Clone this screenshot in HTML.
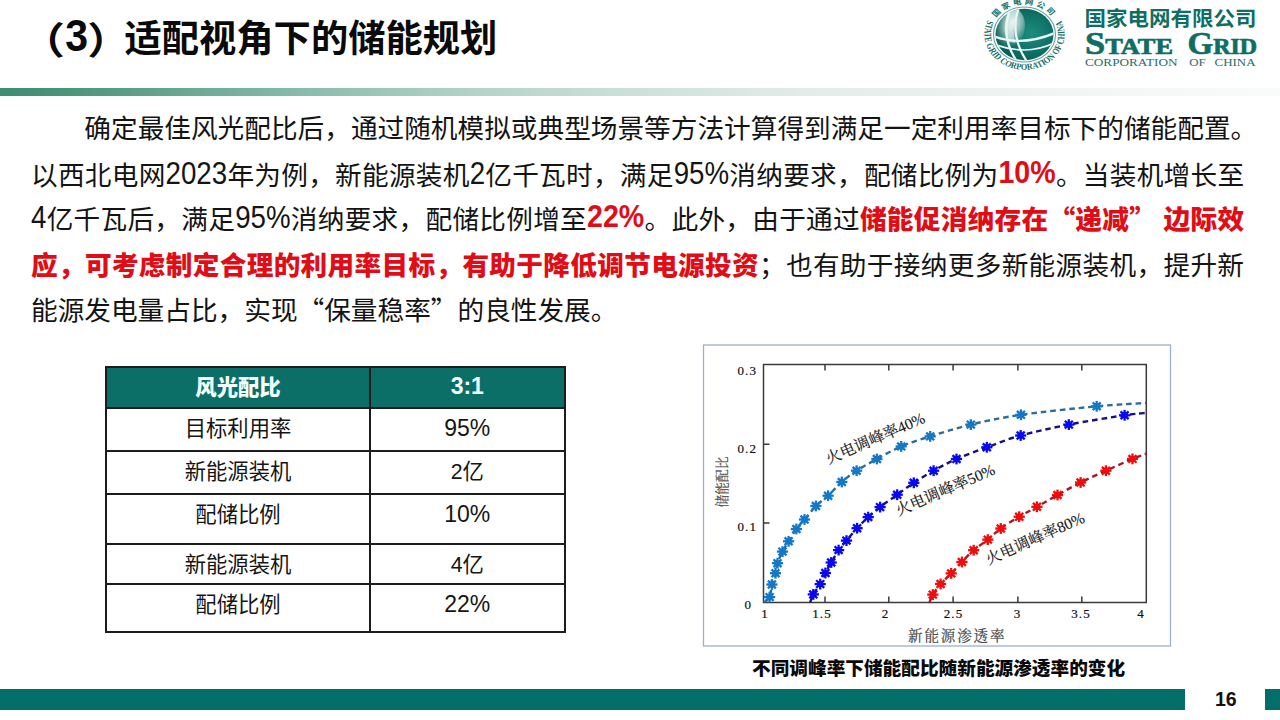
<!DOCTYPE html>
<html lang="zh-CN">
<head>
<meta charset="utf-8">
<title>适配视角下的储能规划</title>
<style>
html,body{margin:0;padding:0;}
body{width:1280px;height:720px;position:relative;overflow:hidden;background:#fff;
 font-family:"Liberation Sans","Noto Sans CJK SC",sans-serif;color:#111;}
.abs{position:absolute;}
#title{left:27px;top:13.5px;font-size:37.3px;font-weight:700;line-height:48px;white-space:nowrap;color:#0a0a0a;}
#tp1,#t3,#tp2{position:relative;display:inline-block;}
#tp1{left:-3.3px;top:2px;transform:scaleX(1.2);}
#t3{font-family:"Liberation Sans",sans-serif;font-size:41px;left:1px;top:-2px;transform:scaleY(1.1);}
#tp2{left:3px;top:2px;transform:scaleX(1.15);}
#gbar{left:0;top:87.5px;width:1280px;height:8px;background:linear-gradient(to right,#3e8c71 0%,#4d967c 6%,#8cbeaf 25%,#b4d3c8 37%,#cde1da 50%,#e2ece8 63%,#ebf2f0 75%,#f4f7f6 88%,#f9fbfa 100%);}
#para{left:31px;top:107px;width:1213px;height:230px;font-size:26.67px;line-height:45.8px;color:#141414;}
.ln{position:absolute;left:0;width:1213px;white-space:nowrap;}
.ln.j{text-align:justify;text-align-last:justify;}
#para q{quotes:none;font-family:"Noto Sans CJK SC",sans-serif;font-feature-settings:"fwid";}
#para b{color:#e00d16;font-weight:900;}
#para .d{display:inline-block;font-size:27.7px;transform-origin:0 32.5px;transform:translateY(-1px) scaleY(1.12);}
#para b .d{font-size:28.6px;transform-origin:0 33px;transform:translateY(-1.5px) scaleY(1.07);}
#tbl{left:106px;top:367px;width:458.5px;height:265px;font-size:21.33px;color:#151515;}
#tbl .thd{position:absolute;left:0;width:458.5px;background:#0b6e67;}
#tbl .tc{position:absolute;text-align:center;line-height:43.5px;white-space:nowrap;}
#tbl .tc.n{font-size:23px;line-height:41.5px;}
#tbl .tc.h{color:#f4fffe;font-weight:900;}
#tbl .hl{position:absolute;left:-1px;width:460.5px;height:2px;background:#1c1c1c;}
#tbl .vl{position:absolute;top:-1px;width:2px;height:266.7px;background:#1c1c1c;}
#cap{left:752px;top:654px;font-size:18.67px;font-weight:900;line-height:30px;white-space:nowrap;color:#0a0a0a;}
#fbar1{left:0;top:689px;width:1185px;height:21px;background:#046e69;}
#fbar2{left:1265px;top:689px;width:15px;height:21px;background:#046e69;}
#pno{left:1215px;top:685.5px;font-size:19.5px;font-weight:700;line-height:26px;color:#111;}
</style>
</head>
<body>
<div id="title" class="abs"><span id="tp1">（</span><span id="t3">3</span><span id="tp2">）</span>适配视角下的储能规划</div>
<div id="gbar" class="abs"></div>

<svg class="abs" style="left:975px;top:0" width="305" height="80" viewBox="975 0 305 80">
 <defs>
  <radialGradient id="gl" cx="0.62" cy="0.48" r="0.62">
   <stop offset="0" stop-color="#1c8d80"/>
   <stop offset="0.55" stop-color="#0f7268"/>
   <stop offset="1" stop-color="#0a5a52"/>
  </radialGradient>
  <radialGradient id="hl" cx="0.55" cy="0.35" r="0.6">
   <stop offset="0" stop-color="#f2f8f7" stop-opacity="0.95"/>
   <stop offset="0.5" stop-color="#b8d3cf" stop-opacity="0.7"/>
   <stop offset="1" stop-color="#7fb0a9" stop-opacity="0"/>
  </radialGradient>
  <path id="ringB" d="M-36.6,-16.3 A40,40 0 1,0 37.1,-15"/>
  <path id="ringT" d="M-26.6,-21.2 A34,34 0 0,1 26.6,-21.2"/>
  <clipPath id="gclip"><circle r="29"/></clipPath>
 </defs>
 <g transform="translate(1024.5,34.5) scale(1,0.885)">
  <circle r="31" fill="none" stroke="#5aa89e" stroke-width="1.1"/>
  <circle r="29" fill="url(#gl)"/>
  <g clip-path="url(#gclip)">
   <ellipse cx="-15" cy="-6" rx="15" ry="24" fill="url(#hl)" transform="rotate(12 -15 -6)"/>
   <path d="M-16,-26 Q-24,-4 -16,8 L-9,10 Q-14,-8 -6,-28 Z" fill="#eef7f6" opacity="0.55"/>
   <path d="M-15,-27 Q-24,2 -8,30" fill="none" stroke="#e8f7f5" stroke-width="2.4"/>
   <path d="M-6,-29 Q-15,0 2,30" fill="none" stroke="#e8f7f5" stroke-width="2.2"/>
   <path d="M-31,2 Q-2,14 31,-2" fill="none" stroke="#e8f7f5" stroke-width="2.6"/>
   <path d="M-28,12 Q3,24 29,10" fill="none" stroke="#e8f7f5" stroke-width="1.9"/>
  </g>

  <text font-family="Liberation Serif,serif" font-size="10" font-weight="700" fill="#1a6f66">
   <textPath href="#ringB" textLength="158" lengthAdjust="spacingAndGlyphs">STATE GRID CORPORATION OF CHINA</textPath>
  </text>
  <text font-family="Noto Sans CJK SC,sans-serif" font-size="8.5" font-weight="700" fill="#1a6f66">
   <textPath href="#ringT" startOffset="50%" text-anchor="middle" letter-spacing="2.6">国家电网公司</textPath>
  </text>
 </g>
 <text x="1084.5" y="26" font-family="Noto Sans CJK SC,sans-serif" font-size="20.5" font-weight="700" fill="#0f6e63" textLength="172" lengthAdjust="spacingAndGlyphs">国家电网有限公司</text>
 <g font-family="Liberation Serif,serif" font-weight="700" fill="#0f6e63" stroke="#0f6e63" stroke-width="0.7">
  <text x="1085" y="54" textLength="88" lengthAdjust="spacingAndGlyphs"><tspan font-size="31">S</tspan><tspan font-size="22.5">TATE</tspan></text>
  <text x="1187.5" y="54" textLength="69.5" lengthAdjust="spacingAndGlyphs"><tspan font-size="31">G</tspan><tspan font-size="22.5">RID</tspan></text>
 </g>
 <g font-family="Liberation Serif,serif" font-size="11.4" fill="#2a6e66">
  <text x="1085" y="66.2" textLength="92.5" lengthAdjust="spacingAndGlyphs">CORPORATION</text>
  <text x="1189.3" y="66.2" textLength="16.5" lengthAdjust="spacingAndGlyphs">OF</text>
  <text x="1214.5" y="66.2" textLength="41" lengthAdjust="spacingAndGlyphs">CHINA</text>
 </g>
</svg>

<div id="para" class="abs">
<div class="ln j" style="top:0px;text-indent:2em;width:1226px">确定最佳风光配比后，通过随机模拟或典型场景等方法计算得到满足一定利用率目标下的储能配置。</div>
<div class="ln j" style="top:45.5px">以西北电网<span class="d">2023</span>年为例，新能源装机<span class="d">2</span>亿千瓦时，满足<span class="d">95%</span>消纳要求，配储比例为<b><span class="d">10%</span></b>。当装机增长至</div>
<div class="ln j" style="top:88.4px"><span class="d">4</span>亿千瓦后，满足<span class="d">95%</span>消纳要求，配储比例增至<b><span class="d">22%</span></b>。此外，由于通过<b>储能促消纳存在<q>“</q>递减<q>”</q> 边际效</b></div>
<div class="ln j" style="top:136.5px"><b>应，可考虑制定合理的利用率目标，有助于降低调节电源投资</b>；也有助于接纳更多新能源装机，提升新</div>
<div class="ln" style="top:179px">能源发电量占比，实现<q>“</q>保量稳率<q>”</q>的良性发展。</div>
</div>

<div id="tbl" class="abs">
<div class="thd" style="top:0;height:41.3px"></div>
<div class="tc h" style="top:0.0px;left:0;width:264px">风光配比</div>
<div class="tc h n" style="top:-1.0px;left:264px;width:194.5px">3:1</div>
<div class="tc" style="top:41.3px;left:0;width:264px">目标利用率</div>
<div class="tc n" style="top:41.3px;left:264px;width:194.5px">95%</div>
<div class="tc" style="top:83.8px;left:0;width:264px">新能源装机</div>
<div class="tc" style="top:83.8px;left:264px;width:194.5px">2亿</div>
<div class="tc" style="top:127.2px;left:0;width:264px">配储比例</div>
<div class="tc n" style="top:127.2px;left:264px;width:194.5px">10%</div>
<div class="tc" style="top:176.6px;left:0;width:264px">新能源装机</div>
<div class="tc" style="top:176.6px;left:264px;width:194.5px">4亿</div>
<div class="tc" style="top:217.4px;left:0;width:264px">配储比例</div>
<div class="tc n" style="top:217.4px;left:264px;width:194.5px">22%</div>
<div class="hl" style="top:-1.0px"></div>
<div class="hl" style="top:40.3px"></div>
<div class="hl" style="top:82.8px"></div>
<div class="hl" style="top:126.2px"></div>
<div class="hl" style="top:175.6px"></div>
<div class="hl" style="top:216.4px"></div>
<div class="hl" style="top:263.7px"></div>
<div class="vl" style="left:-1px"></div><div class="vl" style="left:263.2px"></div><div class="vl" style="left:457.6px"></div>
</div>

<svg class="abs" style="left:700px;top:340px" width="480" height="312" viewBox="700 340 480 312">
 <defs>
  <g id="ast" stroke="currentColor" stroke-width="2.3">
   <line x1="-5.6" y1="0" x2="5.6" y2="0"/><line x1="0" y1="-5.4" x2="0" y2="5.4"/>
   <line x1="-4" y1="-3.85" x2="4" y2="3.85"/><line x1="-4" y1="3.85" x2="4" y2="-3.85"/>
   <circle r="3.2" fill="currentColor" stroke="none"/>
  </g>
 </defs>
 <rect x="703.5" y="345" width="467" height="301" fill="#fff" stroke="#9bb0cc" stroke-width="1.3"/>
 <g stroke="#3a3a3a" stroke-width="1.5" fill="none">
  <path d="M763.5,364.4 V602.6 H1146.3 V364.4 Z"/>
  <path d="M825,602.6 v-6 M888.8,602.6 v-6 M953.1,602.6 v-6 M1017.9,602.6 v-6 M1081.8,602.6 v-6"/>
  <path d="M825,364.4 v6 M888.8,364.4 v6 M953.1,364.4 v6 M1017.9,364.4 v6 M1081.8,364.4 v6"/>
  <path d="M763.5,523 h6 M763.5,444.2 h6"/>
 </g>
 <g font-family="Liberation Serif,serif" font-size="13" fill="#111" stroke="#111" stroke-width="0.2" letter-spacing="1.1">
  <text x="757" y="375" text-anchor="end">0.3</text>
  <text x="757" y="453" text-anchor="end">0.2</text>
  <text x="757" y="531" text-anchor="end">0.1</text>
  <text x="752" y="609" text-anchor="end">0</text>
  <text x="765" y="618.3" text-anchor="middle">1</text>
  <text x="822" y="618.3" text-anchor="middle">1.5</text>
  <text x="885.5" y="618.3" text-anchor="middle">2</text>
  <text x="953.5" y="618.3" text-anchor="middle">2.5</text>
  <text x="1017.5" y="618.3" text-anchor="middle">3</text>
  <text x="1081" y="618.3" text-anchor="middle">3.5</text>
  <text x="1141" y="618.3" text-anchor="middle">4</text>
 </g>
 <text x="908" y="641" font-family="Noto Serif CJK SC,serif" font-size="14.5" fill="#4a4a4a" letter-spacing="1.9" stroke="#4a4a4a" stroke-width="0.2">新能源渗透率</text>
 <text transform="translate(727,507.5) rotate(-90)" font-family="Noto Serif CJK SC,serif" font-size="13.5" fill="#4a4a4a" stroke="#4a4a4a" stroke-width="0.15" textLength="51" lengthAdjust="spacingAndGlyphs">储能配比</text>
 <path d="M764.0,602.5 C764.9,601.6 768.3,600.1 769.6,597.1 C770.9,594.1 770.9,588.5 771.9,584.5 C772.9,580.5 774.6,576.8 775.5,573.2 C776.4,569.7 776.3,566.8 777.5,563.2 C778.7,559.6 780.6,555.2 782.5,551.6 C784.4,548.0 786.3,545.1 788.6,541.3 C790.9,537.5 793.8,532.6 796.4,529.0 C799.0,525.4 801.2,523.3 804.5,519.5 C807.8,515.7 812.0,510.0 815.9,506.0 C819.8,502.0 823.8,499.7 828.1,495.7 C832.4,491.7 837.0,486.2 841.8,482.0 C846.5,477.8 850.8,474.5 856.6,470.7 C862.5,466.9 869.5,463.1 876.9,459.0 C884.3,454.9 892.3,450.2 901.2,446.4 C910.1,442.6 918.6,440.0 930.2,436.4 C941.8,432.8 955.7,428.2 970.8,424.6 C985.9,421.0 999.9,417.9 1020.9,414.8 C1041.9,411.8 1075.9,408.3 1096.7,406.3 C1117.5,404.3 1137.8,403.6 1146.0,403.0" fill="none" stroke="#2b6e9e" stroke-width="2.4" stroke-dasharray="5.6 3.9"/>
<use href="#ast" x="769.6" y="597.1" style="color:#1478c6"/>
<use href="#ast" x="771.9" y="584.5" style="color:#1478c6"/>
<use href="#ast" x="775.5" y="573.2" style="color:#1478c6"/>
<use href="#ast" x="777.5" y="563.2" style="color:#1478c6"/>
<use href="#ast" x="782.5" y="551.6" style="color:#1478c6"/>
<use href="#ast" x="788.6" y="541.3" style="color:#1478c6"/>
<use href="#ast" x="796.4" y="529.0" style="color:#1478c6"/>
<use href="#ast" x="804.5" y="519.5" style="color:#1478c6"/>
<use href="#ast" x="815.9" y="506.0" style="color:#1478c6"/>
<use href="#ast" x="828.1" y="495.7" style="color:#1478c6"/>
<use href="#ast" x="841.8" y="482.0" style="color:#1478c6"/>
<use href="#ast" x="856.6" y="470.7" style="color:#1478c6"/>
<use href="#ast" x="876.9" y="459.0" style="color:#1478c6"/>
<use href="#ast" x="901.2" y="446.4" style="color:#1478c6"/>
<use href="#ast" x="930.2" y="436.4" style="color:#1478c6"/>
<use href="#ast" x="970.8" y="424.6" style="color:#1478c6"/>
<use href="#ast" x="1020.9" y="414.8" style="color:#1478c6"/>
<use href="#ast" x="1096.7" y="406.3" style="color:#1478c6"/>
<path d="M810.2,602.5 C810.7,601.1 811.6,597.5 813.3,594.4 C815.0,591.3 818.2,587.7 820.2,584.1 C822.2,580.5 823.6,576.6 825.4,573.0 C827.2,569.4 829.0,566.3 831.2,562.5 C833.4,558.7 836.1,553.8 838.6,550.1 C841.1,546.5 843.4,544.2 846.5,540.6 C849.6,537.0 853.5,532.1 857.1,528.2 C860.7,524.3 864.4,520.6 868.2,517.1 C872.0,513.6 875.3,510.8 880.1,507.1 C884.9,503.4 891.6,498.8 897.2,494.7 C902.8,490.6 907.7,486.8 913.8,482.8 C919.9,478.8 926.5,474.7 933.6,470.7 C940.7,466.7 947.6,462.9 956.5,459.0 C965.4,455.1 976.1,451.2 986.8,447.3 C997.5,443.4 1007.0,439.3 1020.7,435.5 C1034.4,431.7 1051.5,428.0 1068.8,424.6 C1086.1,421.2 1111.6,417.3 1124.6,415.3 C1137.5,413.3 1142.8,413.2 1146.5,412.8" fill="none" stroke="#18117a" stroke-width="2.4" stroke-dasharray="5.6 3.9"/>
<use href="#ast" x="813.3" y="594.4" style="color:#0808ee"/>
<use href="#ast" x="820.2" y="584.1" style="color:#0808ee"/>
<use href="#ast" x="825.4" y="573.0" style="color:#0808ee"/>
<use href="#ast" x="831.2" y="562.5" style="color:#0808ee"/>
<use href="#ast" x="838.6" y="550.1" style="color:#0808ee"/>
<use href="#ast" x="846.5" y="540.6" style="color:#0808ee"/>
<use href="#ast" x="857.1" y="528.2" style="color:#0808ee"/>
<use href="#ast" x="868.2" y="517.1" style="color:#0808ee"/>
<use href="#ast" x="880.1" y="507.1" style="color:#0808ee"/>
<use href="#ast" x="897.2" y="494.7" style="color:#0808ee"/>
<use href="#ast" x="913.8" y="482.8" style="color:#0808ee"/>
<use href="#ast" x="933.6" y="470.7" style="color:#0808ee"/>
<use href="#ast" x="956.5" y="459.0" style="color:#0808ee"/>
<use href="#ast" x="986.8" y="447.3" style="color:#0808ee"/>
<use href="#ast" x="1020.7" y="435.5" style="color:#0808ee"/>
<use href="#ast" x="1068.8" y="424.6" style="color:#0808ee"/>
<use href="#ast" x="1124.6" y="415.3" style="color:#0808ee"/>
<path d="M929.5,602.5 C930.0,601.2 930.9,597.7 932.8,594.6 C934.6,591.5 937.5,587.5 940.6,584.0 C943.7,580.5 947.7,577.1 951.2,573.4 C954.8,569.7 958.1,565.9 961.9,562.0 C965.6,558.1 969.4,553.9 973.7,550.2 C978.0,546.5 983.3,543.2 987.8,539.6 C992.3,536.0 995.6,532.3 1000.8,528.5 C1006.0,524.7 1013.2,520.3 1019.2,516.7 C1025.2,513.1 1030.5,510.4 1036.9,506.8 C1043.3,503.2 1050.2,499.1 1057.5,495.0 C1064.8,490.9 1072.5,486.6 1080.6,482.5 C1088.7,478.4 1097.2,474.6 1105.9,470.7 C1114.6,466.8 1125.7,461.7 1132.5,458.9 C1139.3,456.1 1144.2,454.6 1146.5,453.7" fill="none" stroke="#b0141e" stroke-width="2.4" stroke-dasharray="5.6 3.9"/>
<use href="#ast" x="932.8" y="594.6" style="color:#f00c0c"/>
<use href="#ast" x="940.6" y="584.0" style="color:#f00c0c"/>
<use href="#ast" x="951.2" y="573.4" style="color:#f00c0c"/>
<use href="#ast" x="961.9" y="562.0" style="color:#f00c0c"/>
<use href="#ast" x="973.7" y="550.2" style="color:#f00c0c"/>
<use href="#ast" x="987.8" y="539.6" style="color:#f00c0c"/>
<use href="#ast" x="1000.8" y="528.5" style="color:#f00c0c"/>
<use href="#ast" x="1019.2" y="516.7" style="color:#f00c0c"/>
<use href="#ast" x="1036.9" y="506.8" style="color:#f00c0c"/>
<use href="#ast" x="1057.5" y="495.0" style="color:#f00c0c"/>
<use href="#ast" x="1080.6" y="482.5" style="color:#f00c0c"/>
<use href="#ast" x="1105.9" y="470.7" style="color:#f00c0c"/>
<use href="#ast" x="1132.5" y="458.9" style="color:#f00c0c"/>
 <g font-family="Liberation Serif, Noto Serif CJK SC, serif" font-size="15.6" fill="#151515" stroke="#151515" stroke-width="0.12">
  <text transform="translate(828.5,464.5) rotate(-23.5)">火电调峰率40%</text>
  <text transform="translate(898.5,516) rotate(-23.5)">火电调峰率50%</text>
  <text transform="translate(988.5,565) rotate(-24)">火电调峰率80%</text>
 </g>
</svg>

<div id="cap" class="abs">不同调峰率下储能配比随新能源渗透率的变化</div>
<div id="fbar1" class="abs"></div>
<div id="fbar2" class="abs"></div>
<div id="pno" class="abs">16</div>
</body>
</html>
